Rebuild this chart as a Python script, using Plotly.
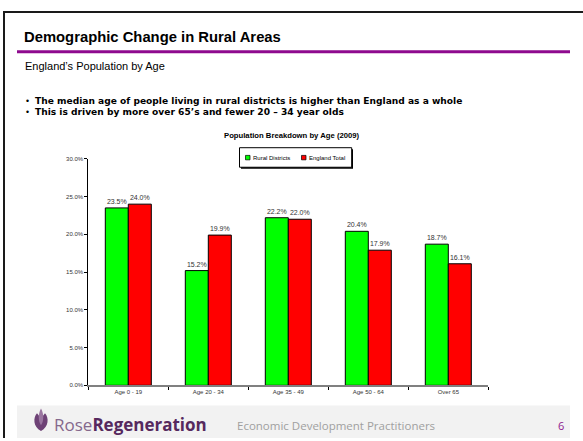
import plotly.graph_objects as go

W, H = 583, 441

categories = ["Age 0 - 19", "Age 20 - 34", "Age 35 - 49", "Age 50 - 64", "Over 65"]
rural_values = [23.5, 15.2, 22.2, 20.4, 18.7]
england_values = [24.0, 19.9, 22.0, 17.9, 16.1]
series_names = ["Rural Districts", "England Total"]
series_colors = ["#00FF00", "#FF0000"]
y_ticks = [0, 5, 10, 15, 20, 25, 30]

slide_title = "Demographic Change in Rural Areas"
slide_subtitle = "England\u2019s Population by Age"
bullets = [
    "The median age of people living in rural districts is higher than England as a whole",
    "This is driven by more over 65\u2019s and fewer 20 \u2013 34 year olds",
]
chart_title = "Population Breakdown by Age (2009)"


def px(x):
    return x / W


def py(y):
    return 1 - y / H


FONT = "Liberation Sans, Arial, sans-serif"
WIDE = "DejaVu Sans, Verdana, sans-serif"

fig = go.Figure()
for name, vals, col in zip(series_names, [rural_values, england_values], series_colors):
    fig.add_trace(go.Bar(
        x=categories, y=vals, name=name,
        marker=dict(color=col, line=dict(color="#000000", width=1)),
        texttemplate="%{y:.1f}%", textposition="outside",
        textfont=dict(family=FONT, size=7, color="#333333"),
        constraintext="none", cliponaxis=False,
        hoverinfo="skip",
    ))

shapes = []
annotations = []

# slide frame
shapes.append(dict(type="line", xref="paper", yref="paper", x0=px(3), x1=px(583), y0=py(9), y1=py(9),
                   line=dict(color="#1a1a1a", width=2)))
shapes.append(dict(type="line", xref="paper", yref="paper", x0=px(4), x1=px(4), y0=py(8), y1=py(441),
                   line=dict(color="#1a1a1a", width=2)))
# purple rule
shapes.append(dict(type="line", xref="paper", yref="paper", x0=px(17), x1=px(570), y0=py(49.5), y1=py(49.5),
                   line=dict(color="#8E0A8E", width=3)))
# footer band
shapes.append(dict(type="rect", xref="paper", yref="paper", x0=px(17), x1=px(570), y0=py(408), y1=py(441),
                   fillcolor="#f2f2f2", line=dict(width=0), layer="below"))

# legend (manual, small)
shapes.append(dict(type="rect", xref="paper", yref="paper", x0=px(241), x1=px(353), y0=py(148.2), y1=py(168),
                   fillcolor="#000000", line=dict(width=0)))
shapes.append(dict(type="rect", xref="paper", yref="paper", x0=px(239.5), x1=px(351.7), y0=py(146.7), y1=py(166.5),
                   fillcolor="#ffffff", line=dict(color="#000000", width=1)))
leg_sq_x = [245.5, 301.5]
for i, (name, col) in enumerate(zip(series_names, series_colors)):
    x0 = leg_sq_x[i]
    shapes.append(dict(type="rect", xref="paper", yref="paper", x0=px(x0), x1=px(x0 + 4.5),
                       y0=py(154.5), y1=py(159), fillcolor=col, line=dict(color="#000000", width=0.7)))
    annotations.append(dict(xref="paper", yref="paper", x=px(x0 + 5.2), y=py(156.8), text=name,
                            showarrow=False, xanchor="left", yanchor="middle",
                            font=dict(family=FONT, size=6, color="#000000")))

# logo icon (stylised rose)
shapes.append(dict(type="path", xref="paper", yref="paper",
                   path=f"M {px(41)},{py(434)} C {px(33)},{py(430)} {px(33)},{py(420)} {px(37)},{py(416)} "
                        f"L {px(41)},{py(421)} L {px(45)},{py(416)} C {px(49)},{py(420)} {px(49)},{py(430)} {px(41)},{py(434)} Z",
                   fillcolor="#6e4276", line=dict(width=0)))
shapes.append(dict(type="path", xref="paper", yref="paper",
                   path=f"M {px(41)},{py(428)} C {px(38)},{py(424)} {px(38)},{py(416)} {px(41)},{py(411)} "
                        f"C {px(44)},{py(416)} {px(44)},{py(424)} {px(41)},{py(428)} Z",
                   fillcolor="#9a76a0", line=dict(width=0)))

annotations += [
    dict(xref="paper", yref="paper", x=px(22), y=py(34.5), text=f"<b>{slide_title}</b>", showarrow=False,
         xanchor="left", yanchor="middle", font=dict(family=FONT, size=14.8, color="#000000")),
    dict(xref="paper", yref="paper", x=px(23), y=py(64), text=slide_subtitle, showarrow=False,
         xanchor="left", yanchor="middle", font=dict(family=FONT, size=11, color="#000000")),
    dict(xref="paper", yref="paper", x=px(292), y=py(134.5), text=f"<b>{chart_title}</b>", showarrow=False,
         xanchor="center", yanchor="middle", font=dict(family=FONT, size=7.7, color="#000000")),
    dict(xref="paper", yref="paper", x=px(52), y=py(427), showarrow=False, xanchor="left", yanchor="middle",
         text="<span style='color:#85688c'>Rose</span><b><span style='color:#56295e'>Regeneration</span></b>",
         font=dict(family="Open Sans, sans-serif", size=17)),
    dict(xref="paper", yref="paper", x=px(235), y=py(428), text="Economic Development Practitioners",
         showarrow=False, xanchor="left", yanchor="middle",
         font=dict(family="Open Sans, sans-serif", size=11.5, color="#a0a0a0")),
    dict(xref="paper", yref="paper", x=px(561), y=py(428), text="6", showarrow=False,
         xanchor="center", yanchor="middle", font=dict(family="Open Sans, sans-serif", size=11, color="#8E1A8E")),
]
for i, (b, yy) in enumerate(zip(bullets, [99, 110.5])):
    annotations.append(dict(xref="paper", yref="paper", x=px(23), y=py(yy), text="\u2022", showarrow=False,
                            xanchor="left", yanchor="middle", font=dict(family=WIDE, size=8.5, color="#000000")))
    annotations.append(dict(xref="paper", yref="paper", x=px(33), y=py(yy), text=f"<b>{b}</b>", showarrow=False,
                            xanchor="left", yanchor="middle", font=dict(family=WIDE, size=9.1, color="#000000")))

fig.update_layout(
    width=W, height=H, autosize=False,
    margin=dict(l=0, r=0, t=0, b=0),
    paper_bgcolor="#ffffff", plot_bgcolor="#ffffff",
    showlegend=False,
    barmode="group", bargap=0.425, bargroupgap=0,
    shapes=shapes, annotations=annotations,
    xaxis=dict(domain=[px(88.3), px(488.3)], type="category", tickson="boundaries",
               showline=True, linecolor="#808080", linewidth=1.5,
               ticks="outside", ticklen=3, tickcolor="#000000", tickwidth=1,
               tickfont=dict(family=FONT, size=6, color="#333333"),
               showgrid=False, zeroline=False, fixedrange=True),
    yaxis=dict(domain=[py(387.6), py(158)], range=[0, 30], tickvals=y_ticks,
               ticktext=[f"{v:.1f}%" for v in y_ticks],
               showline=True, linecolor="#000000", linewidth=1,
               ticks="outside", ticklen=3, tickcolor="#000000", tickwidth=1,
               tickfont=dict(family=FONT, size=6, color="#333333"),
               showgrid=False, zeroline=False, fixedrange=True),
)

fig.write_html("out.html", config={"displayModeBar": False},
               post_script="document.body.style.margin='0';document.body.style.padding='0';"
                           "document.documentElement.style.overflow='hidden';")
